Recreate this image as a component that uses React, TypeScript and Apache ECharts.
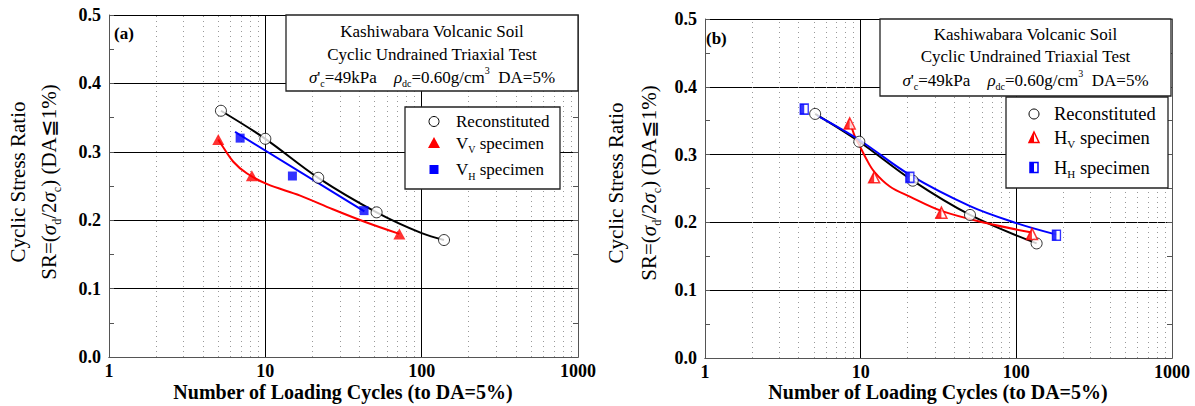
import React, { useEffect, useRef } from 'react';
import * as echarts from 'echarts';

const FONT = "'Liberation Serif', 'Times New Roman', serif";

// ---- axis ticks ----
const xMin = 1;
const xMax = 1000;
const yMin = 0;
const yMax = 0.5;
const yStep = 0.1;
const minorX = [2, 3, 4, 5, 6, 7, 8, 9, 20, 30, 40, 50, 60, 70, 80, 90, 200, 300, 400, 500, 600, 700, 800, 900];

// ---- panel (a) measured points ----
const aReconN = [5.2, 10.0, 21.8, 51.5, 139];
const aReconSR = [0.36, 0.319, 0.262, 0.2115, 0.171];
const aVvN = [5.0, 8.2, 72];
const aVvSR = [0.318, 0.265, 0.18];
const aVhN = [6.9, 14.9, 42.8];
const aVhSR = [0.32, 0.2646, 0.214];
// ---- panel (a) fitted curves ----
const aReconFitN = [5.2, 10.0, 21.8, 51.5, 100, 139];
const aReconFitSR = [0.36, 0.319, 0.262, 0.2115, 0.181, 0.171];
const aVvFitN = [5.0, 5.26, 6.24, 7.6, 10.2, 16.7, 27, 44, 72];
const aVvFitSR = [0.318, 0.31, 0.2855, 0.2686, 0.253, 0.236, 0.216, 0.197, 0.18];
const aVhFitN = [6.4, 43];
const aVhFitSR = [0.329, 0.213];

// ---- panel (b) measured points ----
const bReconN = [5.1, 9.8, 21.6, 50.4, 135];
const bReconSR = [0.36, 0.319, 0.2615, 0.211, 0.169];
const bHvN = [8.5, 12.2, 33, 126];
const bHvSR = [0.346, 0.2665, 0.2143, 0.183];
const bHhN = [4.34, 20.7, 181];
const bHhSR = [0.367, 0.2665, 0.181];
// ---- panel (b) fitted curves ----
const bReconFitN = [5.1, 9.8, 21.6, 50.4, 135];
const bReconFitSR = [0.36, 0.319, 0.2615, 0.211, 0.169];
const bHvFitN = [8.54, 9.2, 9.8, 10.9, 12.2, 15.4, 20.7, 33, 64, 126];
const bHvFitSR = [0.348, 0.326, 0.314, 0.293, 0.275, 0.253, 0.238, 0.217, 0.199, 0.185];
const bHhFitN = [5.3, 9.8, 20.7, 50.4, 100, 181];
const bHhFitSR = [0.357, 0.3215, 0.27, 0.224, 0.199, 0.182];

const RED = '#ff0000';
const BLUE = '#0000ff';

const pairs = (xs: number[], ys: number[]) => xs.map((x, i) => [x, ys[i]]);

function makeRich(size: number, weight: string) {
  const sub = Math.round(size * 0.58);
  return {
    it: { fontStyle: 'italic', fontWeight: weight, fontFamily: FONT, fontSize: size, lineHeight: size + 6 },
    sub: { fontFamily: FONT, fontWeight: weight, fontSize: sub, lineHeight: sub, verticalAlign: 'bottom' },
    sup: { fontFamily: FONT, fontWeight: weight, fontSize: sub, lineHeight: sub, verticalAlign: 'top' },
  };
}

function txt(x: number, y: number, text: string, size: number, opts: any = {}, el: any = {}) {
  const weight = opts.weight || 'normal';
  const align = opts.align || 'center';
  return {
    type: 'text',
    x,
    y,
    silent: true,
    z: 100,
    ...el,
    style: {
      legacy: false,
      text,
      fill: '#000',
      font: `${weight} ${size}px ${FONT}`,
      fontFamily: FONT,
      fontSize: size,
      fontWeight: weight,
      lineHeight: size + 6,
      align,
      verticalAlign: 'middle',
      rich: makeRich(size, weight),
    },
  };
}

function box(x: number, y: number, w: number, h: number) {
  return {
    type: 'rect',
    silent: true,
    z: 90,
    shape: { x, y, width: w, height: h },
    style: { fill: '#fff', stroke: '#222', lineWidth: 1.3 },
  };
}

function panelGraphics(p: any) {
  const g: any[] = [];
  g.push(txt(p.letterX, p.letterY, p.letter, 17, { weight: 'bold', align: 'left' }));
  g.push(box(p.tb.x, p.tb.y, p.tb.w, p.tb.h));
  const tcx = p.tb.x + p.tb.w / 2;
  g.push(txt(tcx, p.tLines[0], 'Kashiwabara Volcanic Soil', 17));
  g.push(txt(tcx, p.tLines[1], 'Cyclic Undrained Triaxial Test', 17));
  g.push(txt(tcx, p.tLines[2], "{it|σ}'{sub|c}=49kPa    {it|ρ}{sub|dc}=0.60g/cm{sup|3}  DA=5%", 17));
  g.push(box(p.lb.x, p.lb.y, p.lb.w, p.lb.h));
  const sx = p.symX;
  const [r0, r1, r2] = p.rows;
  g.push({
    type: 'circle', silent: true, z: 100,
    shape: { cx: sx, cy: r0, r: 5 },
    style: { fill: '#fff', stroke: '#000', lineWidth: 1 },
  });
  if (!p.half) {
    g.push({
      type: 'polygon', silent: true, z: 100,
      shape: { points: [[sx, r1 - 6], [sx + 6, r1 + 5], [sx - 6, r1 + 5]] },
      style: { fill: RED },
    });
    g.push({
      type: 'rect', silent: true, z: 100,
      shape: { x: sx - 4.5, y: r2 - 4.5, width: 9, height: 9 },
      style: { fill: BLUE },
    });
  } else {
    g.push({
      type: 'polygon', silent: true, z: 100,
      shape: { points: [[sx, r1 - 5.5], [sx + 5, r1 + 5], [sx - 5, r1 + 5]] },
      style: { fill: '#fff', stroke: RED, lineWidth: 1.5 },
    });
    g.push({
      type: 'polygon', silent: true, z: 101,
      shape: { points: [[sx, r1 - 5.5], [sx, r1 + 5], [sx - 5, r1 + 5]] },
      style: { fill: RED },
    });
    g.push({
      type: 'rect', silent: true, z: 100,
      shape: { x: sx - 4, y: r2 - 5, width: 8, height: 10 },
      style: { fill: '#fff', stroke: BLUE, lineWidth: 1.5 },
    });
    g.push({
      type: 'rect', silent: true, z: 101,
      shape: { x: sx - 4, y: r2 - 5, width: 4, height: 10 },
      style: { fill: BLUE },
    });
  }
  const lx = p.textX;
  const ls = p.legSize;
  const L = { align: 'left' };
  g.push(txt(lx, r0, 'Reconstituted', ls, L));
  g.push(txt(lx, r1, p.half ? 'H{sub|V} specimen' : 'V{sub|V} specimen', ls, L));
  g.push(txt(lx, r2, p.half ? 'H{sub|H} specimen' : 'V{sub|H} specimen', ls, L));
  // y-axis titles (rotated)
  g.push(txt(p.y1X, p.yMid, 'Cyclic Stress Ratio', 21, {}, { rotation: Math.PI / 2 }));
  g.push(
    txt(p.y2X, p.yMid, 'SR=({it|σ}{sub|d}/2{it|σ}{sub|c}) (DA≦1%)', 21, {}, { rotation: Math.PI / 2 })
  );
  // x-axis title
  g.push(txt(p.xtX, 392, 'Number of Loading Cycles (to DA=5%)', 20, { weight: 'bold' }));
  return g;
}

const panelA = {
  letter: '(a)', letterX: 114, letterY: 33,
  tb: { x: 286, y: 15, w: 292, h: 76 },
  tLines: [31.5, 54, 77],
  lb: { x: 405, y: 107, w: 155, h: 82 },
  symX: 434, rows: [121.5, 143, 169.5], textX: 456, legSize: 17,
  half: false,
  y1X: 18, y2X: 49, yMid: 182,
  xtX: 343,
};
const panelB = {
  letter: '(b)', letterX: 706, letterY: 38,
  tb: { x: 880, y: 19, w: 291, h: 77 },
  tLines: [34.5, 56, 80],
  lb: { x: 1006, y: 97, w: 162, h: 91 },
  symX: 1034, rows: [114, 137.5, 167.5], textX: 1054, legSize: 18.5,
  half: true,
  y1X: 616, y2X: 649, yMid: 183,
  xtX: 938,
};

function xBottom(gi: number) {
  return {
    gridIndex: gi, type: 'log', logBase: 10, min: xMin, max: xMax, position: 'bottom',
    axisLine: { show: true, lineStyle: { color: '#555' } },
    axisTick: { show: false },
    axisLabel: {
      fontFamily: FONT, fontWeight: 'bold', fontSize: 18, color: '#000', margin: 5,
      formatter: (v: number) => String(Math.round(v)),
    },
    splitLine: { show: true, lineStyle: { color: '#000', width: 1 } },
  };
}
function xTop(gi: number) {
  return {
    gridIndex: gi, type: 'log', logBase: 10, min: xMin, max: xMax, position: 'top',
    axisLine: { show: true, lineStyle: { color: '#555' } },
    axisTick: { show: false }, axisLabel: { show: false }, splitLine: { show: false },
  };
}
function yLeft(gi: number) {
  return {
    gridIndex: gi, type: 'value', min: yMin, max: yMax, interval: yStep, position: 'left',
    axisLine: { show: true, lineStyle: { color: '#555' } },
    axisTick: { show: true, inside: true, length: 5, lineStyle: { color: '#555' } },
    minorTick: { show: true, splitNumber: 2, length: 5, lineStyle: { color: '#555' } },
    axisLabel: {
      fontFamily: FONT, fontWeight: 'bold', fontSize: 18, color: '#000', margin: 8,
      formatter: (v: number) => v.toFixed(1),
    },
    splitLine: { show: true, lineStyle: { color: '#000', width: 1 } },
  };
}
function yRight(gi: number) {
  return {
    gridIndex: gi, type: 'value', min: yMin, max: yMax, interval: yStep, position: 'right',
    axisLine: { show: true, lineStyle: { color: '#555' } },
    axisTick: { show: true, inside: true, length: 5, lineStyle: { color: '#555' } },
    minorTick: { show: true, splitNumber: 2, length: 5, lineStyle: { color: '#555' } },
    axisLabel: { show: false },
    splitLine: { show: false },
  };
}

function fitLine(gi: number, xs: number[], ys: number[], color: string, withMinor = false) {
  const s: any = {
    type: 'line', xAxisIndex: gi, yAxisIndex: gi,
    data: pairs(xs, ys), smooth: 0.35, showSymbol: false, symbol: 'none',
    lineStyle: { color, width: 2 }, silent: true, z: 3,
  };
  if (withMinor) {
    s.markLine = {
      silent: true, symbol: 'none', label: { show: false }, z: 1,
      lineStyle: { type: [1, 4], color: '#999', width: 1 },
      data: minorX.map((v) => ({ xAxis: v })),
    };
  }
  return s;
}
function scatter(gi: number, xs: number[], ys: number[], extra: any) {
  return {
    type: 'scatter', xAxisIndex: gi, yAxisIndex: gi, data: pairs(xs, ys), silent: true, z: 5,
    ...extra,
  };
}

const circleStyle = {
  symbol: 'circle', symbolSize: 11,
  itemStyle: { color: '#fff', borderColor: '#000', borderWidth: 1 },
};

const option: any = {
  animation: false,
  backgroundColor: '#fff',
  grid: [
    { left: 109, top: 15, width: 469, height: 342 },
    { left: 705, top: 19, width: 467, height: 339 },
  ],
  xAxis: [xBottom(0), xBottom(1), xTop(0), xTop(1)],
  yAxis: [yLeft(0), yLeft(1), yRight(0), yRight(1)],
  series: [
    // panel (a)
    fitLine(0, aReconFitN, aReconFitSR, '#000', true),
    fitLine(0, aVvFitN, aVvFitSR, RED),
    fitLine(0, aVhFitN, aVhFitSR, BLUE),
    scatter(0, aReconN, aReconSR, circleStyle),
    scatter(0, aVvN, aVvSR, { symbol: 'triangle', symbolSize: [12, 11], itemStyle: { color: RED } }),
    scatter(0, aVhN, aVhSR, { symbol: 'rect', symbolSize: 9, itemStyle: { color: BLUE } }),
    // panel (b)
    fitLine(1, bReconFitN, bReconFitSR, '#000', true),
    fitLine(1, bHvFitN, bHvFitSR, RED),
    fitLine(1, bHhFitN, bHhFitSR, BLUE),
    scatter(1, bReconN, bReconSR, circleStyle),
    scatter(1, bHvN, bHvSR, {
      symbol: 'triangle', symbolSize: [11, 11],
      itemStyle: { color: '#fff', borderColor: RED, borderWidth: 1.5 },
    }),
    scatter(1, bHvN, bHvSR, {
      symbol: 'path://M1,0 L1,1 L0,1 Z', symbolSize: [5.5, 11], symbolOffset: [-2.75, 0],
      itemStyle: { color: RED }, z: 6,
    }),
    scatter(1, bHhN, bHhSR, {
      symbol: 'rect', symbolSize: [8, 10],
      itemStyle: { color: '#fff', borderColor: BLUE, borderWidth: 1.5 },
    }),
    scatter(1, bHhN, bHhSR, {
      symbol: 'rect', symbolSize: [4, 10], symbolOffset: [-2, 0],
      itemStyle: { color: BLUE }, z: 6,
    }),
  ],
  graphic: [...panelGraphics(panelA), ...panelGraphics(panelB)],
};

export default function App() {
  const ref = useRef<HTMLDivElement>(null);
  useEffect(() => {
    document.body.style.margin = '0';
    const chart = echarts.init(ref.current!, null, { renderer: 'svg' });
    chart.setOption(option);
    return () => chart.dispose();
  }, []);
  return (
    <div
      ref={ref}
      style={{ position: 'absolute', left: 0, top: 0, width: 1195, height: 406, background: '#fff' }}
    />
  );
}
